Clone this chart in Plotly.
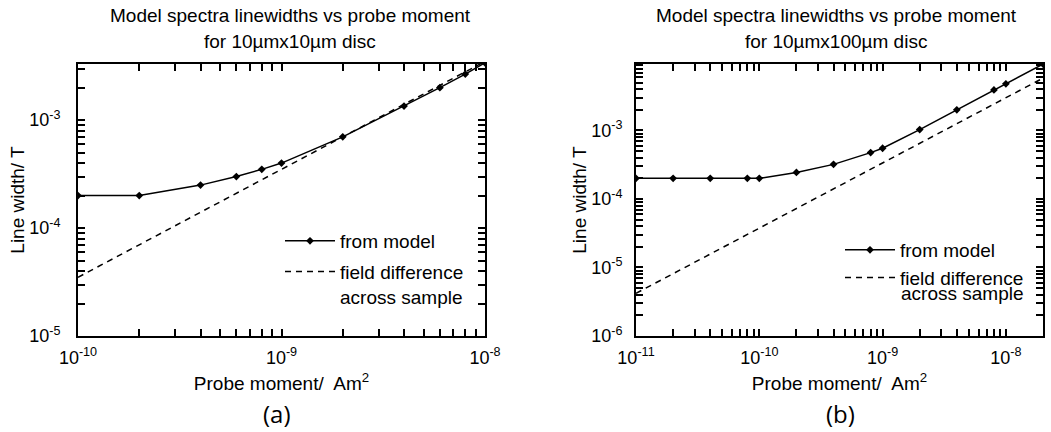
import plotly.graph_objects as go

# ---- data: panel (a) 10um x 10um disc ----
a_moment = [1e-10, 2e-10, 4e-10, 6e-10, 8e-10, 1e-9, 2e-9, 4e-9, 6e-9, 8e-9, 1e-8]
a_width = [2.0e-4, 2.0e-4, 2.5e-4, 3.0e-4, 3.5e-4, 4.0e-4, 7.0e-4, 1.35e-3, 2.0e-3, 2.67e-3, 3.4e-3]
a_fd_moment = [1e-10, 1e-8]
a_fd_width = [3.5e-5, 3.5e-3]

# ---- data: panel (b) 10um x 100um disc ----
b_moment = [1e-11, 2e-11, 4e-11, 8e-11, 1e-10, 2e-10, 4e-10, 8e-10, 1e-9, 2e-9, 4e-9, 8e-9, 1e-8, 2e-8]
b_width = [2.0e-4, 2.0e-4, 2.0e-4, 2.0e-4, 2.0e-4, 2.44e-4, 3.2e-4, 4.75e-4, 5.5e-4, 1.03e-3, 2.0e-3, 3.9e-3, 4.8e-3, 9.3e-3]
b_fd_moment = [1e-11, 2e-8]
b_fd_width = [4.2e-6, 5.8e-3]

title_line1 = "Model spectra linewidths vs probe moment"
title_line2 = ["for 10µmx10µm disc", "for 10µmx100µm disc"]
panel_labels = ["(a)", "(b)"]

FONT = "Liberation Sans, Arial, sans-serif"
FS = 19

def log_ticks(lo, hi, rng):
    vals, txt = [], []
    for e in range(lo, hi + 1):
        for m in range(1, 10):
            v = m * 10.0 ** e
            if v > 10 ** rng[1] * 1.0001:
                continue
            vals.append(v)
            txt.append("10<sup>%d</sup>" % e if m == 1 else "")
    return vals, txt

fig = go.Figure()

line_style = dict(color="black", width=1.5)
dash_style = dict(color="black", width=1.5, dash="6px,5px")
marker_style = dict(symbol="diamond", size=6, color="black")

fig.add_trace(go.Scatter(x=a_moment, y=a_width, mode="lines+markers", name="from model",
                         line=line_style, marker=marker_style, legendgroup="a1",
                         xaxis="x", yaxis="y", legend="legend"))
fig.add_trace(go.Scatter(x=a_fd_moment, y=a_fd_width, mode="lines",
                         name="field difference<br>across sample", legendgroup="a2",
                         line=dash_style, xaxis="x", yaxis="y", legend="legend"))
fig.add_trace(go.Scatter(x=b_moment, y=b_width, mode="lines+markers", name="from model",
                         line=line_style, marker=marker_style, legendgroup="b1",
                         xaxis="x2", yaxis="y2", legend="legend2"))
fig.add_trace(go.Scatter(x=b_fd_moment, y=b_fd_width, mode="lines",
                         name="field difference", legendgroup="b2",
                         line=dash_style, xaxis="x2", yaxis="y2", legend="legend2"))

tickfont = dict(family=FONT, size=18, color="black")

def make_axis(lo, hi, rng, domain, anchor, title, standoff, labelpad):
    vals, txt = log_ticks(lo, hi, rng)
    return dict(type="log", range=rng, domain=domain, anchor=anchor, automargin=False,
                tickmode="array", tickvals=vals, ticktext=txt,
                ticks="inside", ticklen=7, tickwidth=1.5, tickcolor="black",
                showline=True, linecolor="black", linewidth=2, mirror="ticks",
                showgrid=False, zeroline=False, ticklabelstandoff=labelpad,
                tickfont=tickfont,
                title=dict(text=title, font=dict(family=FONT, size=FS, color="black"),
                           standoff=standoff))

ydom = [1 - 336 / 432, 1 - 64 / 432]
xdom1 = [78 / 1051, 485 / 1051]
xdom2 = [636 / 1051, 1043 / 1051]
xr1, yr1 = [-10, -8], [-5, -2.48]
xr2, yr2 = [-11, -7.699], [-6, -2.03]

fig.update_layout(
    template="none",
    width=1051, height=432, margin=dict(l=0, r=0, t=0, b=0, pad=0),
    paper_bgcolor="white", plot_bgcolor="white",
    font=dict(family=FONT, size=FS, color="black"),
    xaxis=make_axis(-10, -8, xr1, xdom1, "y", "Probe moment/  Am<sup>2</sup>", 10, 4),
    yaxis=make_axis(-5, -3, yr1, ydom, "x", "Line width/ T", 0, 12),
    xaxis2=make_axis(-11, -8, xr2, xdom2, "y2", "Probe moment/  Am<sup>2</sup>", 10, 4),
    yaxis2=make_axis(-6, -3, yr2, ydom, "x2", "Line width/ T", 0, 8),
    legend=dict(x=280 / 1051, y=1 - 222 / 432, xanchor="left", yanchor="top",
                bgcolor="rgba(0,0,0,0)", font=dict(family=FONT, size=FS),
                valign="top", itemwidth=50, traceorder="grouped", tracegroupgap=3),
    legend2=dict(x=840 / 1051, y=1 - 231 / 432, xanchor="left", yanchor="top",
                 bgcolor="rgba(0,0,0,0)", font=dict(family=FONT, size=FS),
                 valign="top", itemwidth=50, traceorder="grouped", tracegroupgap=0),
    showlegend=True,
)

centers = [290, 836]
pcenters = [277, 840]
for i in range(2):
    fig.add_annotation(text=title_line1, x=centers[i] / 1051, y=1 - 16 / 432, xref="paper", yref="paper",
                       xanchor="center", yanchor="middle", showarrow=False,
                       font=dict(family=FONT, size=FS, color="black"))
    fig.add_annotation(text=title_line2[i], x=centers[i] / 1051, y=1 - 42 / 432, xref="paper",
                       yref="paper", xanchor="center", yanchor="middle", showarrow=False,
                       font=dict(family=FONT, size=FS, color="black"))
    fig.add_annotation(text=panel_labels[i], x=pcenters[i] / 1051, y=1 - 413 / 432, xref="paper",
                       yref="paper", xanchor="center", yanchor="middle", showarrow=False,
                       font=dict(family="Open Sans, Noto Sans, sans-serif", size=24, color="black"))

fig.add_annotation(text="across sample", x=899 / 1051, y=1 - 293 / 432, xref="paper", yref="paper",
                   xanchor="left", yanchor="middle", showarrow=False,
                   font=dict(family=FONT, size=FS, color="black"))

fig.write_html("out.html")
